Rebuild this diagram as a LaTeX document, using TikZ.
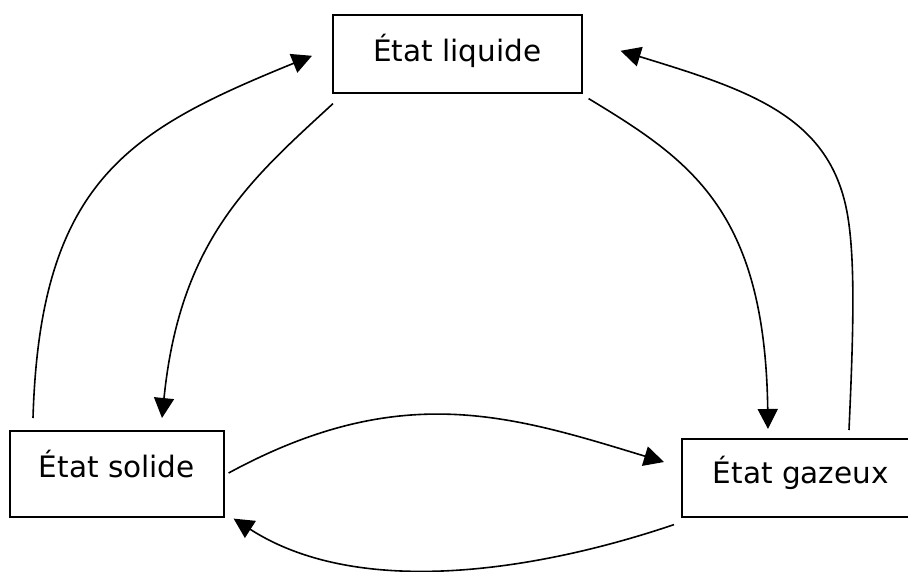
\documentclass[tikz,border=0pt]{standalone}
\usepackage{fontspec}
\setmainfont{DejaVu Sans}
\usetikzlibrary{arrows.meta,calc}
\begin{document}
\begin{tikzpicture}[x=1pt,y=-1pt,
  statebox/.style={draw, line width=1.6pt, rectangle, anchor=north west,
    inner xsep=0pt, inner ysep=0pt, font=\fontsize{29.5}{34}\selectfont},
  conn/.style={line width=1.6pt, -{Triangle[length=20pt,width=20pt]}}]
\useasboundingbox (0,0) rectangle (908,571);
\clip (0,0) rectangle (908,571);
\node[statebox, minimum width=249pt, text height=47pt, text depth=31pt] (liq) at (332,14) {État liquide};
\node[statebox, minimum width=214pt, text height=47pt, text depth=39pt] (sol) at (9,430) {État solide};
\node[statebox, minimum width=238pt, text height=45pt, text depth=33pt] (gaz) at (681,438) {État gazeux};
% endpoints
\coordinate (a1s) at ($(sol.north west)+(24,-12)$);
\coordinate (a1e) at ($(liq.west)+(-20,2)$);
\coordinate (a2s) at ($(liq.south west)+(1,10)$);
\coordinate (a2e) at ($(sol.north west)+(153,-12)$);
\coordinate (a3s) at ($(liq.south east)+(6,5)$);
\coordinate (a3e) at ($(gaz.north west)+(87,-9)$);
\coordinate (a4s) at ($(gaz.north west)+(168,-8)$);
\coordinate (a4e) at ($(liq.east)+(38,-3)$);
\coordinate (a5s) at ($(sol.north east)+(4,43)$);
\coordinate (a5e) at ($(gaz.north west)+(-17,24)$);
\coordinate (a6s) at ($(gaz.south west)+(-7,7)$);
\coordinate (a6e) at ($(sol.south east)+(9,1)$);
% connectors
\draw[conn] (a1s) .. controls (40,180) and (130,130) .. (a1e);
\draw[conn] (a2s) .. controls (250,180) and (180,240) .. (a2e);
\draw[conn] (a3s) .. controls (690,160) and (765,210) .. (a3e);
\draw[conn] (a4s) .. controls (853,340) and (856,260) .. (847,212) .. controls (829,116) and (749,90) .. (a4e);
\draw[conn] (a5s) .. controls (400,380) and (510,415) .. (a5e);
\draw[conn] (a6s) .. controls (540,570) and (360,600) .. (a6e);
\end{tikzpicture}
\end{document}
